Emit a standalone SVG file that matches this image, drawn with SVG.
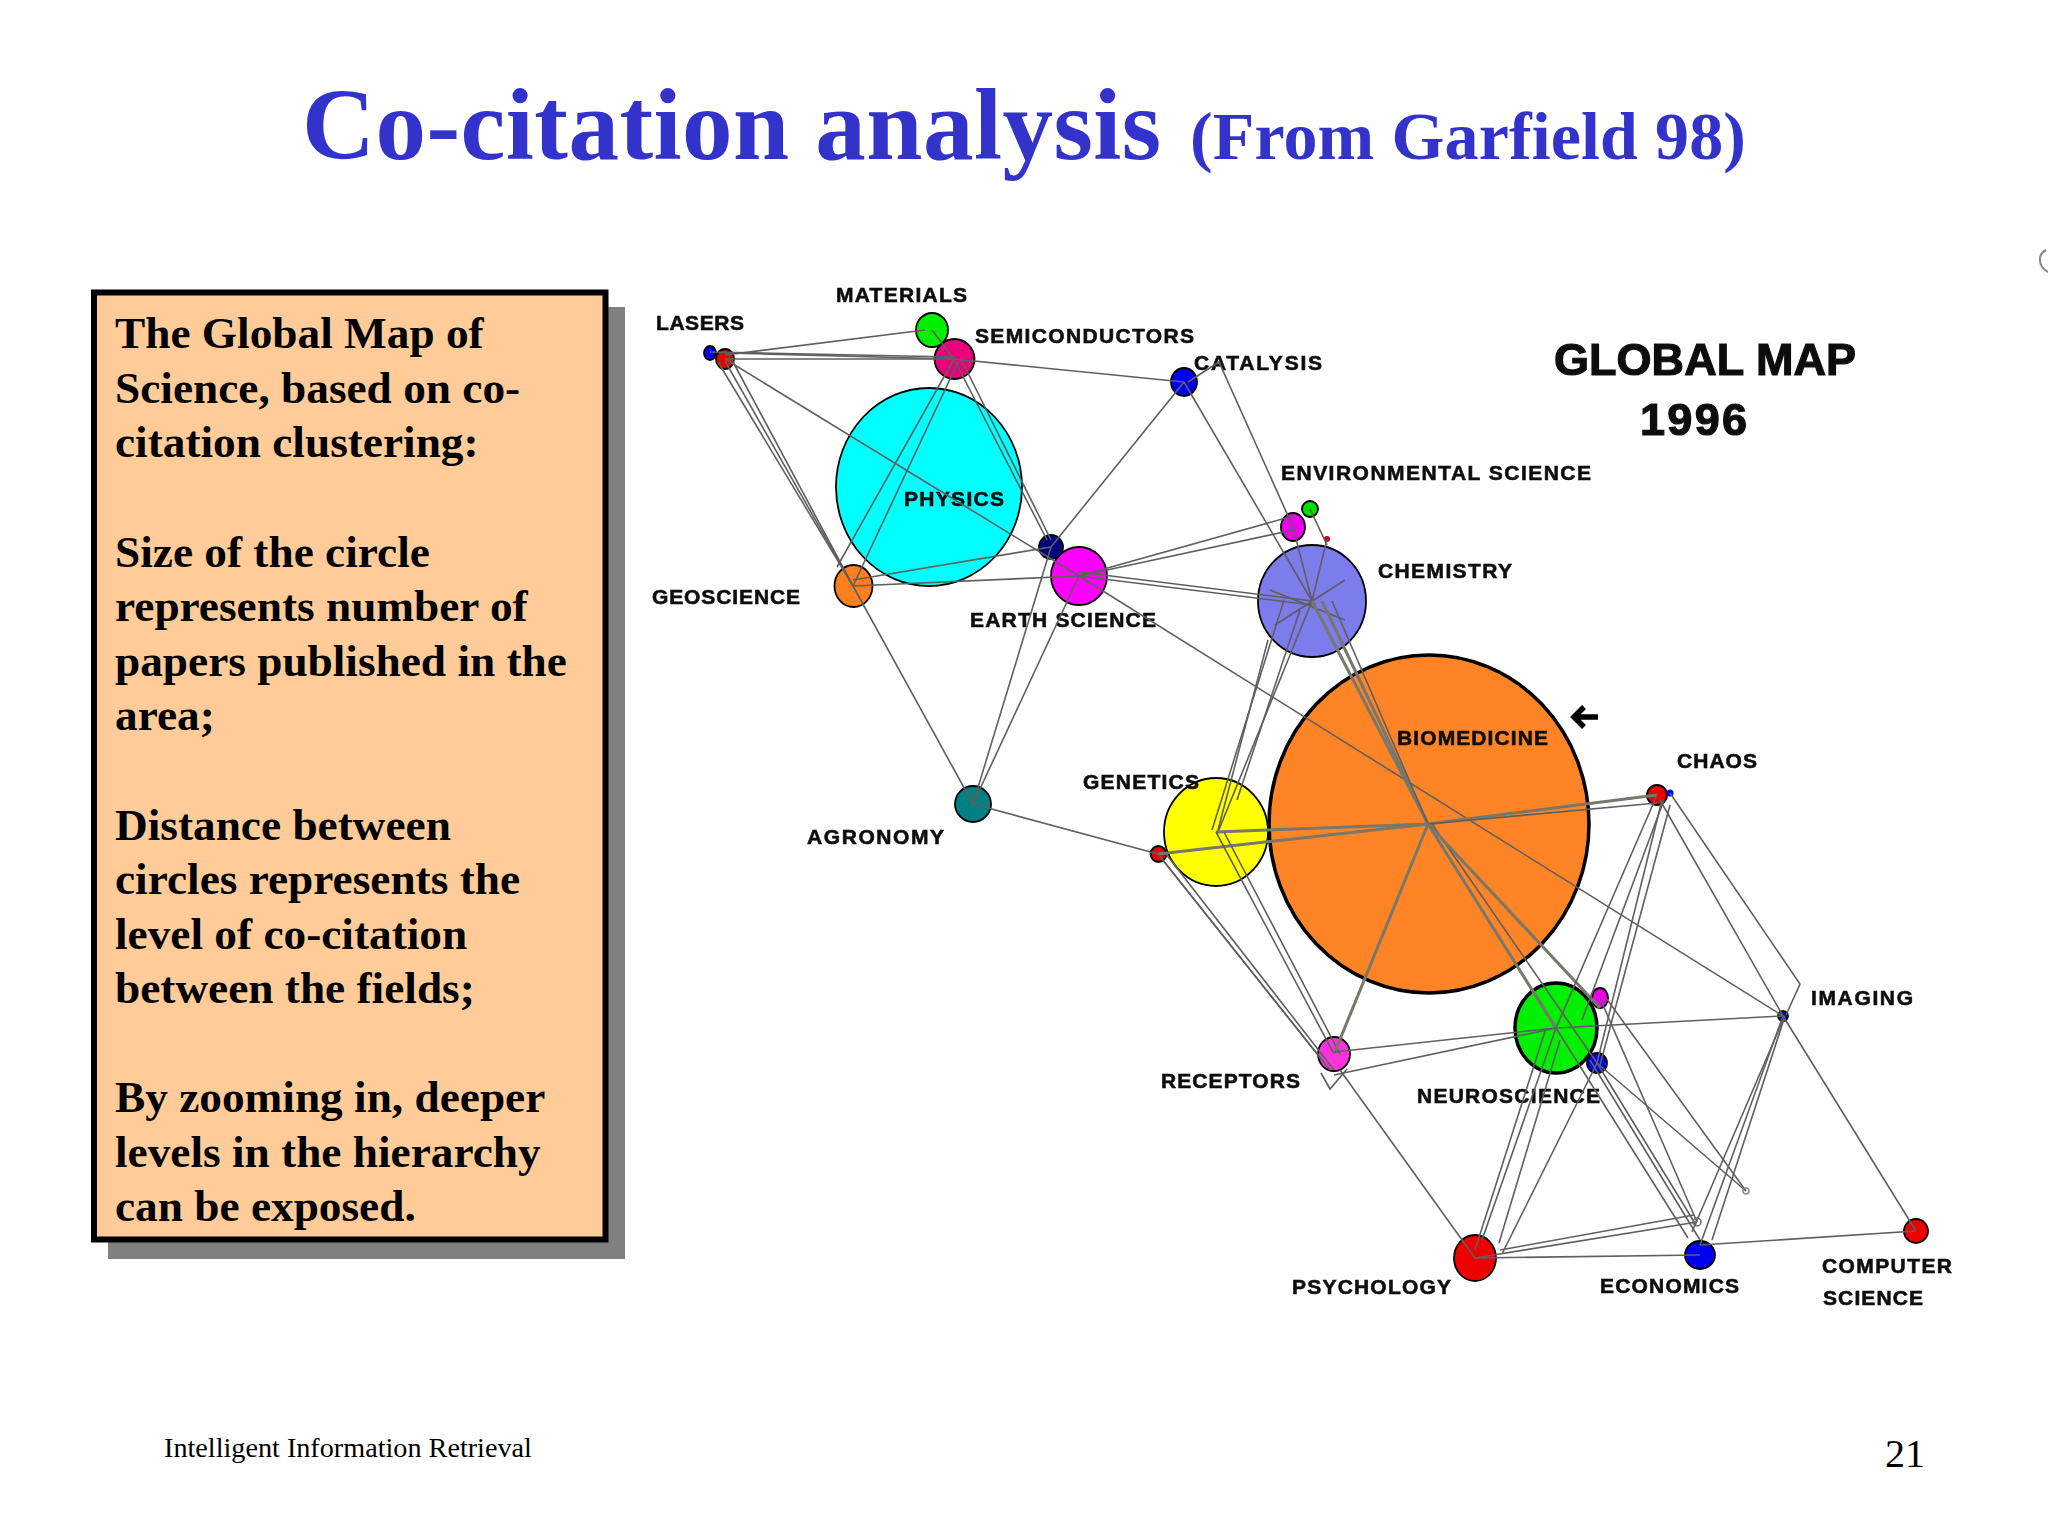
<svg xmlns="http://www.w3.org/2000/svg" width="2048" height="1536" viewBox="0 0 2048 1536">
<defs><filter id="soft" x="-5%" y="-5%" width="110%" height="110%"><feGaussianBlur stdDeviation="0.6"/></filter></defs>
<style>
.n{stroke:#000;stroke-width:1.8}
.l{font-family:"Liberation Sans",Arial,sans-serif;font-weight:700;font-size:21px;fill:#111;stroke:#111;stroke-width:.6}
.big{font-size:45px;stroke-width:1.2}
.t{font-family:"Liberation Serif","Times New Roman",serif;font-weight:700;fill:#3333cc}
.b{font-family:"Liberation Serif","Times New Roman",serif;font-weight:700;font-size:45.300px;fill:#000}
.f{font-family:"Liberation Serif","Times New Roman",serif;fill:#000}
#connectors line,#connectors polyline{stroke:#5f5f5f;stroke-width:1.6;fill:none}
#connectors .w{stroke:#77776a;stroke-width:3}
</style>
<rect width="2048" height="1536" fill="#fff"/>
<g id="title">
<text class="t" x="302" y="159" font-size="101" textLength="859">Co-citation analysis</text>
<text class="t" x="1190" y="159" font-size="68" textLength="556">(From Garfield 98)</text>
</g>
<g id="textbox">
<rect x="108" y="307" width="517" height="952" fill="#808080"/>
<rect x="94" y="292.500" width="511.500" height="947" fill="#ffcc99" stroke="#000" stroke-width="6"/>
<text class="b" x="115" y="348">The Global Map of</text>
<text class="b" x="115" y="403">Science, based on co-</text>
<text class="b" x="115" y="457">citation clustering:</text>
<text class="b" x="115" y="567">Size of the circle</text>
<text class="b" x="115" y="621">represents number of</text>
<text class="b" x="115" y="676">papers published in the</text>
<text class="b" x="115" y="730">area;</text>
<text class="b" x="115" y="840">Distance between</text>
<text class="b" x="115" y="894">circles represents the</text>
<text class="b" x="115" y="949">level of co-citation</text>
<text class="b" x="115" y="1003">between the fields;</text>
<text class="b" x="115" y="1112">By zooming in, deeper</text>
<text class="b" x="115" y="1167">levels in the hierarchy</text>
<text class="b" x="115" y="1221">can be exposed.</text>
</g>
<g id="map" filter="url(#soft)">
<g id="physics"><ellipse class="n" cx="929" cy="487" rx="93" ry="99" fill="#00ffff"/><text class="l" x="904" y="506" textLength="100">PHYSICS</text></g>
<g id="biomedicine"><ellipse class="n" style="stroke-width:3.500" cx="1429" cy="824" rx="160" ry="169" fill="#ff8426"/><text class="l" x="1397" y="745" textLength="151">BIOMEDICINE</text></g>
<g id="chemistry"><ellipse class="n" cx="1312" cy="601" rx="54" ry="56" fill="#7b7bec"/><text class="l" x="1378" y="578" textLength="134">CHEMISTRY</text></g>
<g id="genetics"><ellipse class="n" cx="1216" cy="832" rx="52" ry="54" fill="#ffff00"/><text class="l" x="1083" y="789" textLength="116">GENETICS</text></g>
<g id="neuroscience"><ellipse class="n" style="stroke-width:3.500" cx="1556" cy="1028" rx="41" ry="45" fill="#00f000"/><text class="l" x="1417" y="1103" textLength="183">NEUROSCIENCE</text></g>
<g id="earth-science"><ellipse class="n" cx="1079" cy="576" rx="28" ry="29" fill="#ff00ff"/><text class="l" x="970" y="627" textLength="186">EARTH SCIENCE</text></g>
<g id="semiconductors"><ellipse class="n" cx="954.500" cy="359" rx="20" ry="20" fill="#e8007c"/><text class="l" x="975" y="343" textLength="219">SEMICONDUCTORS</text></g>
<g id="materials"><ellipse class="n" cx="932" cy="330" rx="16" ry="17" fill="#00f000"/><text class="l" x="836" y="302" textLength="131">MATERIALS</text></g>
<g id="lasers"><ellipse class="n" cx="710" cy="353" rx="6" ry="7" fill="#0000ee"/><ellipse class="n" cx="725" cy="359" rx="9" ry="10" fill="#ee0000"/><text class="l" x="656" y="330" textLength="88">LASERS</text></g>
<g id="catalysis"><ellipse class="n" cx="1184" cy="382" rx="13" ry="14" fill="#0000ee"/><text class="l" x="1194" y="370" textLength="128">CATALYSIS</text></g>
<g id="geoscience"><ellipse class="n" cx="853.500" cy="586" rx="19" ry="21" fill="#ff7f1e"/><text class="l" x="652" y="604" textLength="148">GEOSCIENCE</text></g>
<g id="navy-node"><ellipse class="n" cx="1051" cy="547" rx="12" ry="12" fill="#000080"/></g>
<g id="environmental-science"><ellipse class="n" cx="1310" cy="509" rx="8" ry="8" fill="#00e000"/><ellipse class="n" cx="1293" cy="527" rx="12" ry="14" fill="#ee00ee"/><circle cx="1327" cy="539" r="3" fill="#d00000"/><text class="l" x="1281" y="480" textLength="310">ENVIRONMENTAL SCIENCE</text></g>
<g id="agronomy"><ellipse class="n" cx="973" cy="804" rx="18" ry="18" fill="#008080"/><text class="l" x="807" y="844" textLength="137">AGRONOMY</text></g>
<g id="genetics-red"><circle class="n" cx="1158.500" cy="854" r="8" fill="#e00000"/></g>
<g id="chaos"><circle class="n" cx="1657" cy="795" r="10" fill="#ee0000"/><circle cx="1670" cy="793" r="3.500" fill="#0000ee"/><text class="l" x="1677" y="768" textLength="80">CHAOS</text></g>
<g id="imaging"><circle class="n" cx="1783" cy="1016" r="5" fill="#0000cc"/><text class="l" x="1811" y="1005" textLength="102">IMAGING</text></g>
<g id="neuro-pink"><ellipse class="n" cx="1600" cy="998" rx="8" ry="10" fill="#ee00ee"/></g>
<g id="neuro-blue"><ellipse class="n" cx="1597" cy="1063" rx="10" ry="10" fill="#0000ee"/></g>
<g id="receptors"><ellipse class="n" cx="1334" cy="1054" rx="16" ry="17" fill="#ff33dd"/><text class="l" x="1161" y="1088" textLength="139">RECEPTORS</text></g>
<g id="psychology"><ellipse class="n" cx="1475" cy="1258" rx="21" ry="23" fill="#ee0000"/><text class="l" x="1292" y="1294" textLength="159">PSYCHOLOGY</text></g>
<g id="economics"><ellipse class="n" cx="1700" cy="1255" rx="15" ry="14" fill="#0000ee"/><text class="l" x="1600" y="1293" textLength="139">ECONOMICS</text></g>
<g id="computer-science"><circle class="n" cx="1916" cy="1231" r="12" fill="#ee0000"/><text class="l" x="1822" y="1273" textLength="130">COMPUTER</text><text class="l" x="1823" y="1305" textLength="100">SCIENCE</text></g>
<g id="connectors">
<line x1="725" y1="355" x2="925" y2="330"/>
<line x1="710" y1="352" x2="954" y2="357"/>
<line x1="725" y1="353" x2="954" y2="359"/>
<line x1="725" y1="359" x2="954" y2="359"/>
<line x1="932" y1="330" x2="954" y2="359"/>
<line x1="954" y1="359" x2="1184" y2="382"/>
<line x1="725" y1="359" x2="1079" y2="576"/>
<line x1="718" y1="362" x2="853" y2="586"/>
<line x1="725" y1="361" x2="853" y2="586"/>
<line x1="732" y1="360" x2="853" y2="586"/>
<line x1="954" y1="359" x2="837" y2="567"/>
<line x1="958" y1="362" x2="853" y2="586"/>
<line x1="954" y1="359" x2="1047" y2="540"/>
<line x1="961" y1="359" x2="1051" y2="540"/>
<line x1="853" y1="580" x2="1051" y2="547"/>
<line x1="853" y1="586" x2="1079" y2="576"/>
<line x1="853" y1="586" x2="973" y2="804"/>
<line x1="1051" y1="547" x2="1184" y2="382"/>
<line x1="1184" y1="382" x2="1312" y2="601"/>
<polyline points="1188,382 1219,362 1293,527"/>
<line x1="1079" y1="576" x2="1293" y2="516"/>
<line x1="1079" y1="576" x2="1293" y2="530"/>
<line x1="1079" y1="572" x2="1312" y2="601"/>
<line x1="1079" y1="576" x2="1312" y2="605"/>
<line x1="1079" y1="576" x2="1783" y2="1016"/>
<line x1="1051" y1="547" x2="973" y2="804"/>
<line x1="1079" y1="576" x2="973" y2="804"/>
<line x1="973" y1="804" x2="1158" y2="854"/>
<line x1="1310" y1="509" x2="1327" y2="545"/>
<line x1="1293" y1="527" x2="1312" y2="601"/>
<line x1="1327" y1="539" x2="1312" y2="601"/>
<line x1="1268" y1="640" x2="1218" y2="830"/>
<line x1="1284" y1="600" x2="1212" y2="830"/>
<line x1="1312" y1="601" x2="1218" y2="832"/>
<line x1="1300" y1="610" x2="1237" y2="800"/>
<line x1="1270" y1="590" x2="1345" y2="620"/>
<line x1="1345" y1="580" x2="1275" y2="625"/>
<line class="w" x1="1312" y1="601" x2="1428" y2="824"/>
<line class="w" x1="1322" y1="601" x2="1428" y2="824"/>
<line x1="1332" y1="601" x2="1428" y2="824"/>
<line class="w" x1="1216" y1="832" x2="1428" y2="824"/>
<line class="w" x1="1158" y1="854" x2="1428" y2="824"/>
<line class="w" x1="1428" y1="824" x2="1657" y2="795"/>
<line x1="1428" y1="824" x2="1657" y2="803"/>
<line x1="1216" y1="832" x2="1334" y2="1054"/>
<line x1="1224" y1="832" x2="1340" y2="1054"/>
<line x1="1158" y1="854" x2="1322" y2="1060"/>
<line x1="1158" y1="854" x2="1330" y2="1070"/>
<line x1="1166" y1="854" x2="1334" y2="1070"/>
<line class="w" x1="1428" y1="824" x2="1334" y2="1054"/>
<line class="w" x1="1428" y1="824" x2="1556" y2="1028"/>
<line x1="1432" y1="824" x2="1597" y2="1063"/>
<line class="w" x1="1428" y1="824" x2="1600" y2="1008"/>
<line x1="1334" y1="1052" x2="1556" y2="1028"/>
<line x1="1334" y1="1075" x2="1556" y2="1028"/>
<line x1="1340" y1="1070" x2="1475" y2="1258"/>
<line x1="1556" y1="1028" x2="1482" y2="1240"/>
<line x1="1546" y1="1028" x2="1475" y2="1250"/>
<line x1="1560" y1="1040" x2="1499" y2="1243"/>
<line x1="1597" y1="1063" x2="1502" y2="1254"/>
<line x1="1556" y1="1028" x2="1783" y2="1016"/>
<line x1="1657" y1="795" x2="1556" y2="1028"/>
<line x1="1662" y1="800" x2="1597" y2="1063"/>
<line x1="1664" y1="800" x2="1582" y2="1020"/>
<line x1="1670" y1="805" x2="1600" y2="1065"/>
<polyline points="1670,793 1800,984 1786,1015"/>
<line x1="1660" y1="800" x2="1783" y2="1016"/>
<line x1="1783" y1="1016" x2="1700" y2="1245"/>
<line x1="1785" y1="1016" x2="1712" y2="1240"/>
<line x1="1783" y1="1020" x2="1692" y2="1232"/>
<line x1="1783" y1="1016" x2="1916" y2="1231"/>
<line x1="1700" y1="1245" x2="1916" y2="1231"/>
<line x1="1475" y1="1258" x2="1700" y2="1255"/>
<line x1="1475" y1="1258" x2="1697" y2="1222"/>
<line x1="1500" y1="1250" x2="1694" y2="1215"/>
<line x1="1600" y1="998" x2="1697" y2="1222"/>
<line x1="1606" y1="998" x2="1746" y2="1191"/>
<line x1="1597" y1="1063" x2="1746" y2="1191"/>
<line x1="1556" y1="1028" x2="1688" y2="1238"/>
<line x1="1590" y1="1060" x2="1700" y2="1240"/>
<line x1="1597" y1="1063" x2="1696" y2="1225"/>
<polyline points="1321,1073 1330,1089 1347,1069"/>
<circle cx="1697" cy="1222" r="4" fill="none" stroke="#6a6a6a" stroke-width="1.500"/>
<circle cx="1746" cy="1191" r="3" fill="none" stroke="#888" stroke-width="1.500"/>
</g>
<g id="arrow"><path d="M1598 717H1574M1584 707L1574 717L1584 727" fill="none" stroke="#000" stroke-width="5.500"/></g>
<g id="map-title"><text class="l big" x="1554" y="375" textLength="302">GLOBAL MAP</text><text class="l big" x="1640" y="435" textLength="107">1996</text></g>
</g>
<path d="M2046 250C2038 254 2037 266 2048 272" fill="none" stroke="#888" stroke-width="2"/>
<g id="footer">
<text class="f" x="164" y="1457" font-size="28.200">Intelligent Information Retrieval</text>
<text class="f" x="1885" y="1467" font-size="40">21</text>
</g>
</svg>
